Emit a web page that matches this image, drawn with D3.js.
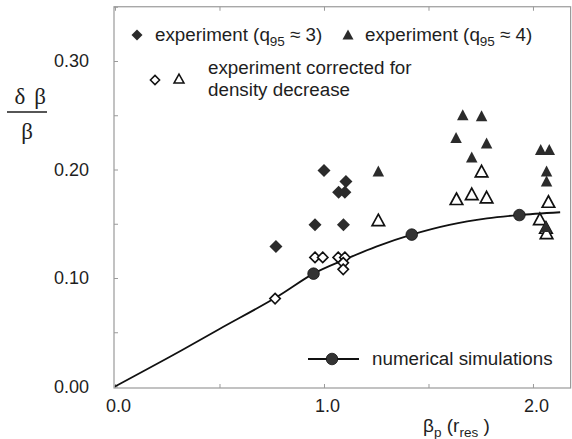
<!DOCTYPE html>
<html>
<head>
<meta charset="utf-8">
<script src="https://cdn.jsdelivr.net/npm/d3@7"></script>
<style>
  html, body { margin: 0; padding: 0; background: #fff; }
  svg { display: block; }
  text { font-family: "Liberation Sans", Arial, Helvetica, sans-serif; fill: #1e1e1e; }
</style>
</head>
<body>
<svg id="chart" width="572" height="439"></svg>
<script>
// ---- data ----
const yTicksMajor = [0.00, 0.10, 0.20, 0.30];
const yTicksMinor = [0.05, 0.15, 0.25, 0.35];
const xTicksMajor = [0.0, 1.0, 2.0];
const xTicksMinor = [0.5, 1.5];

// experiment (q95 ≈ 3) – filled diamonds
const expQ3 = [[1.00,0.199],[1.105,0.189],[1.07,0.179],[1.10,0.179],[0.957,0.149],[1.093,0.149],[0.77,0.129]];
// corrected for density decrease – open diamonds
const expQ3Corr = [[0.957,0.119],[0.994,0.119],[1.068,0.119],[1.100,0.119],[1.092,0.114],[1.092,0.108],[0.766,0.081]];
// experiment (q95 ≈ 4) – filled triangles
const expQ4 = [[1.26,0.198],[1.664,0.250],[1.754,0.249],[1.632,0.229],[1.778,0.224],[1.707,0.211],[2.037,0.218],[2.078,0.218],[2.065,0.198],[2.065,0.189],[2.062,0.147]];
// corrected – open triangles
const expQ4Corr = [[1.26,0.153],[1.754,0.198],[1.634,0.1725],[1.707,0.177],[1.778,0.174],[2.074,0.170],[2.033,0.154],[2.062,0.146],[2.065,0.141]];
// numerical simulations: curve and marked points
const simCurve = [[0,0],[0.25,0.026],[0.5,0.053],[0.77,0.082],[0.95,0.104],[1.1,0.117],[1.25,0.129],[1.42,0.140],[1.6,0.149],[1.78,0.155],[1.93,0.158],[2.13,0.1606]];
const simPoints = [[0.95,0.104],[1.42,0.140],[1.935,0.158]];

// ---- layout ----
const svg = d3.select("#chart");
const x = d3.scaleLinear().domain([0, 2.18]).range([115, 570.6]);
const y = d3.scaleLinear().domain([0, 0.35]).range([386.5, 6.75]);
const dark = "#2b2b2b";
const frame = "#9a9a9a";
const fs = "18.8px";
const sub = "13.5px";

// frame
svg.append("rect")
  .attr("x", 114).attr("y", y(0.35))
  .attr("width", x(2.18) - 114).attr("height", y(0) + 1.5 - y(0.35))
  .attr("fill", "none").attr("stroke", frame).attr("stroke-width", 1.2);

// axes
const yAxis = d3.axisLeft(y).tickValues(yTicksMajor.concat(yTicksMinor))
  .tickSize(-4).tickPadding(25)
  .tickFormat(d => yTicksMajor.some(v => Math.abs(v - d) < 1e-9) ? d3.format(".2f")(d) : "");
const gy = svg.append("g").attr("transform", "translate(114,0)").call(yAxis);
gy.select(".domain").remove();
gy.selectAll("line").attr("stroke", frame);
gy.selectAll("text").style("font-size", "18px").attr("fill", "#1e1e1e");

const xAxis = d3.axisBottom(x).tickValues(xTicksMajor.concat(xTicksMinor))
  .tickSize(-4).tickPadding(11)
  .tickFormat(d => xTicksMajor.some(v => Math.abs(v - d) < 1e-9) ? d3.format(".1f")(d) : "");
const gx = svg.append("g").attr("transform", "translate(0,388)").call(xAxis);
gx.select(".domain").remove();
gx.selectAll("line").attr("stroke", frame);
gx.selectAll("text").style("font-size", "18px").attr("fill", "#1e1e1e").attr("dx", 3);

const xTop = d3.axisTop(x).tickValues(xTicksMajor.concat(xTicksMinor)).tickSize(-4).tickFormat("");
const gt = svg.append("g").attr("transform", `translate(0,${y(0.35)})`).call(xTop);
gt.select(".domain").remove();
gt.selectAll("line").attr("stroke", frame);

// axis titles
const serif = "'Liberation Serif', 'Times New Roman', serif";
const yl = svg.append("g");
yl.append("text").attr("x", 20).attr("y", 104).attr("text-anchor", "middle")
  .style("font-family", serif).style("font-size", "23px").text("δ");
yl.append("text").attr("x", 40).attr("y", 104).attr("text-anchor", "middle")
  .style("font-family", serif).style("font-size", "23px").text("β");
yl.append("line").attr("x1", 7).attr("x2", 47).attr("y1", 112).attr("y2", 112)
  .attr("stroke", "#1e1e1e").attr("stroke-width", 1.5);
yl.append("text").attr("x", 27).attr("y", 139).attr("text-anchor", "middle")
  .style("font-family", serif).style("font-size", "23px").text("β");

const xl = svg.append("text").attr("x", 423).attr("y", 432).style("font-size", "19px");
xl.append("tspan").text("β");
xl.append("tspan").attr("dy", 5).style("font-size", sub).text("p");
xl.append("tspan").attr("dy", -5).text(" (r");
xl.append("tspan").attr("dy", 5).style("font-size", sub).text("res");
xl.append("tspan").attr("dy", -5).text(" )");

// marker generators
const diamond = (cx, cy, h) => `M${cx},${cy - h}L${cx + h},${cy}L${cx},${cy + h}L${cx - h},${cy}Z`;
const triangle = (cx, cy, w, h) => `M${cx},${cy - h * 0.55}L${cx + w / 2},${cy + h * 0.45}L${cx - w / 2},${cy + h * 0.45}Z`;

// simulation curve
const line = d3.line().x(d => x(d[0])).y(d => y(d[1])).curve(d3.curveCatmullRom.alpha(0.5));
svg.append("path").datum(simCurve).attr("d", line)
  .attr("fill", "none").attr("stroke", "#111").attr("stroke-width", 1.8);

// open markers
svg.append("g").selectAll("path").data(expQ3Corr).join("path")
  .attr("d", d => diamond(x(d[0]), y(d[1]), 5.2))
  .attr("fill", "#fff").attr("stroke", "#111").attr("stroke-width", 1.6);
svg.append("g").selectAll("path").data(expQ4Corr).join("path")
  .attr("d", d => triangle(x(d[0]), y(d[1]), 12.5, 11.5))
  .attr("fill", "#fff").attr("stroke", "#111").attr("stroke-width", 1.7);

// filled markers
svg.append("g").selectAll("path").data(expQ3).join("path")
  .attr("d", d => diamond(x(d[0]), y(d[1]), 6.5))
  .attr("fill", dark);
svg.append("g").selectAll("path").data(expQ4).join("path")
  .attr("d", d => triangle(x(d[0]), y(d[1]), 11.5, 11))
  .attr("fill", dark);

// simulation points
svg.append("g").selectAll("circle").data(simPoints).join("circle")
  .attr("cx", d => x(d[0])).attr("cy", d => y(d[1])).attr("r", 5.8)
  .attr("fill", "#333").attr("stroke", "#111").attr("stroke-width", 0.8);

// legend
const lg = svg.append("g");
lg.append("path").attr("d", diamond(137, 35, 5.5)).attr("fill", dark);
const t1 = lg.append("text").attr("x", 155).attr("y", 41).style("font-size", fs);
t1.append("tspan").text("experiment (q");
t1.append("tspan").attr("dy", 5).style("font-size", sub).text("95");
t1.append("tspan").attr("dy", -5).text(" ≈ 3)");
lg.append("path").attr("d", triangle(348, 35, 11, 10)).attr("fill", dark);
const t2 = lg.append("text").attr("x", 365).attr("y", 41).style("font-size", fs);
t2.append("tspan").text("experiment (q");
t2.append("tspan").attr("dy", 5).style("font-size", sub).text("95");
t2.append("tspan").attr("dy", -5).text(" ≈ 4)");

lg.append("path").attr("d", diamond(155, 80, 4.6)).attr("fill", "#fff").attr("stroke", "#111").attr("stroke-width", 1.5);
lg.append("path").attr("d", triangle(179, 79, 10, 9)).attr("fill", "#fff").attr("stroke", "#111").attr("stroke-width", 1.5);
lg.append("text").attr("x", 208).attr("y", 74).style("font-size", fs).text("experiment corrected for");
lg.append("text").attr("x", 208).attr("y", 96).style("font-size", fs).text("density decrease");

lg.append("line").attr("x1", 308).attr("x2", 359).attr("y1", 359).attr("y2", 359)
  .attr("stroke", "#111").attr("stroke-width", 1.8);
lg.append("circle").attr("cx", 332).attr("cy", 359).attr("r", 5.8).attr("fill", "#333").attr("stroke", "#111").attr("stroke-width", 0.8);
lg.append("text").attr("x", 372).attr("y", 365).style("font-size", fs).text("numerical simulations");
</script>
</body>
</html>
